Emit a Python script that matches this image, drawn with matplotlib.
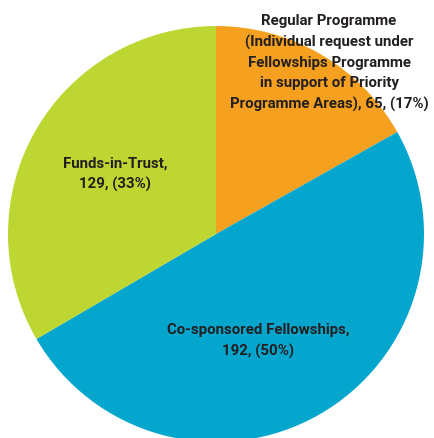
import matplotlib.pyplot as plt

labels = ['Regular Programme\n(Individual request under\nFellowships Programme\nin support of Priority\nProgramme Areas)',
          'Co-sponsored Fellowships', 'Funds-in-Trust']
values = [65, 192, 129]
colors = ['#F5A11F', '#05A6CD', '#BED631']

plt.rcParams['font.family'] = ['Roboto', 'DejaVu Sans']

fig = plt.figure(figsize=(4.34, 4.38), dpi=100)
ax = fig.add_axes([0, 0, 1, 1])

# pie centre ~ (216, 234) px, radius ~208 px
cx, cy, r = 216, 234, 208
ax.pie(values, colors=colors, startangle=90, counterclock=False,
       radius=1, wedgeprops=dict(linewidth=0))
ax.set_xlim(-cx / r, (434 - cx) / r)
ax.set_ylim(-(438 - cy) / r, cy / r)
ax.set_aspect('auto')
ax.axis('off')

total = sum(values)
pcts = [round(v / total * 100) for v in values]

def px(x, y):
    return (x - cx) / r, (cy - y) / r

txt = dict(ha='center', va='center', color='#231F20', fontsize=10.8,
           fontweight='bold', fontstretch='condensed', linespacing=1.55)

ax.text(*px(329, 63), '%s, %d, (%d%%)' % (labels[0], values[0], pcts[0]), **txt)
ax.text(*px(258, 341), '%s,\n%d, (%d%%)' % (labels[1], values[1], pcts[1]), **txt)
ax.text(*px(115, 174), '%s,\n%d, (%d%%)' % (labels[2], values[2], pcts[2]), **txt)

fig.savefig('out.png', dpi=100)
